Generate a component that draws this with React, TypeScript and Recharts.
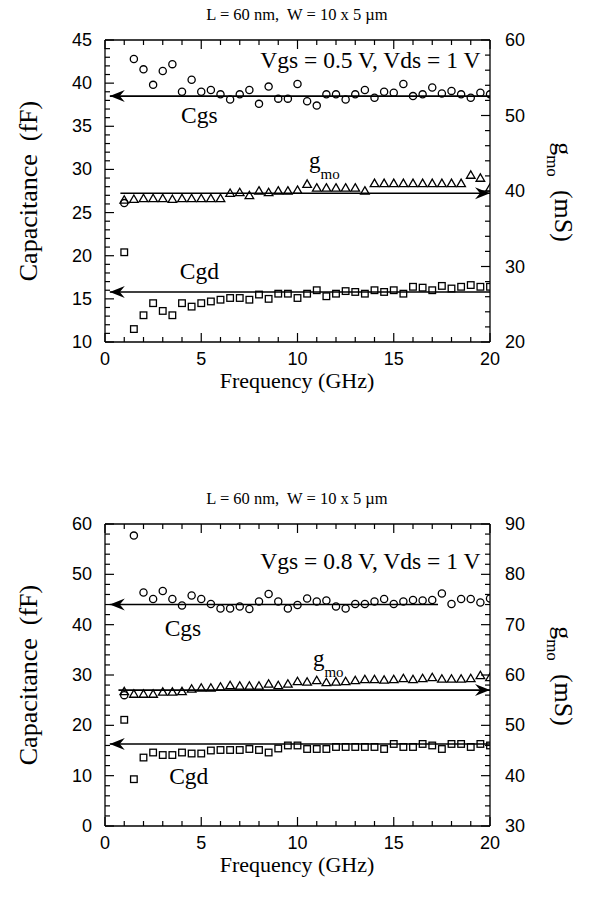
import React from "react";
import {
  ComposedChart,
  Scatter,
  XAxis,
  YAxis,
  ReferenceLine,
  ReferenceDot,
} from "recharts";

const freqGHz = [
  1, 1.5, 2, 2.5, 3, 3.5, 4, 4.5, 5, 5.5, 6, 6.5, 7, 7.5, 8, 8.5, 9, 9.5, 10,
  10.5, 11, 11.5, 12, 12.5, 13, 13.5, 14, 14.5, 15, 15.5, 16, 16.5, 17, 17.5,
  18, 18.5, 19, 19.5, 20,
];

// Vgs = 0.5 V
const cgsLow = [
  26.1, 42.8, 41.6, 39.8, 41.4, 42.2, 39.0, 40.4, 39.0, 39.2, 38.7, 38.1, 38.7,
  39.2, 37.6, 39.6, 38.2, 38.2, 39.9, 37.9, 37.4, 38.7, 38.7, 38.1, 38.7, 39.2,
  38.3, 39.0, 38.9, 39.9, 38.5, 38.7, 39.5, 38.8, 39.1, 38.7, 38.3, 38.9, 38.7,
];
const gmLow = [
  38.8, 38.9, 39.0, 39.0, 39.0, 38.9, 39.0, 39.0, 39.0, 39.0, 39.0, 39.7, 39.8,
  39.4, 40.0, 39.8, 40.0, 40.0, 40.1, 40.9, 40.4, 40.4, 40.4, 40.4, 40.4, 40.0,
  41.0, 41.0, 41.0, 41.0, 41.0, 41.0, 41.0, 41.0, 41.0, 41.0, 42.1, 41.7, 40.4,
];
const cgdLow = [
  20.4, 11.5, 13.1, 14.5, 13.6, 13.1, 14.5, 14.1, 14.5, 14.7, 14.9, 15.1, 15.1,
  14.9, 15.5, 15.0, 15.6, 15.6, 15.1, 15.6, 16.0, 15.3, 15.6, 15.9, 15.8, 15.6,
  16.0, 15.8, 16.0, 15.6, 16.4, 16.3, 16.0, 16.5, 16.2, 16.4, 16.6, 16.4, 16.4,
];

// Vgs = 0.8 V
const cgsHigh = [
  26.0, 57.7, 46.4, 45.1, 46.7, 45.1, 43.8, 45.8, 45.1, 44.1, 43.2, 43.2, 43.6,
  43.1, 44.6, 46.1, 44.6, 43.2, 43.9, 45.2, 44.6, 44.8, 43.6, 43.2, 44.1, 44.1,
  44.6, 45.1, 44.1, 44.6, 44.9, 44.8, 44.9, 46.2, 44.1, 45.1, 45.1, 44.4, 45.2,
];
const gmHigh = [
  56.7, 56.2, 56.2, 56.2, 56.6, 56.6, 56.7, 57.2, 57.4, 57.4, 57.6, 57.9, 57.8,
  57.8, 57.8, 58.2, 57.9, 58.2, 58.7, 58.6, 58.9, 58.5, 58.6, 58.7, 58.9, 59.1,
  59.1, 59.0, 59.1, 59.3, 59.1, 59.3, 59.5, 59.2, 59.2, 59.2, 59.3, 59.9, 59.5,
];
const cgdHigh = [
  21.1, 9.3, 13.6, 14.6, 14.1, 14.1, 14.6, 14.4, 14.4, 15.0, 15.1, 15.1, 15.1,
  15.3, 15.1, 14.6, 15.4, 16.0, 16.0, 15.3, 15.3, 15.3, 15.7, 15.7, 15.7, 15.7,
  15.7, 15.3, 16.3, 15.7, 15.7, 16.3, 16.0, 15.3, 16.3, 16.3, 15.7, 16.3, 16.0,
];

// extrapolated levels drawn as arrows: [level, from GHz, to GHz]
const fitCgsLow = [38.5, 0.25, 20];
const fitGmLow = [39.7, 0.8, 20];
const fitCgdLow = [15.8, 0.25, 20];
const fitCgsHigh = [44.0, 0.25, 17.3];
const fitGmHigh = [57.0, 0.7, 20];
const fitCgdHigh = [16.3, 0.25, 20];

const freqTicks = [0, 5, 10, 15, 20];
const capTicksLow = [10, 15, 20, 25, 30, 35, 40, 45];
const gmTicksLow = [20, 30, 40, 50, 60];
const capTicksHigh = [0, 10, 20, 30, 40, 50, 60];
const gmTicksHigh = [30, 40, 50, 60, 70, 80, 90];

const SANS = "Liberation Sans";
const SERIF = "Liberation Serif";
const PLOT_H = 302;
const M = 4;

function range(a: number, b: number, step: number) {
  const out: number[] = [];
  for (let v = a; v <= b + 1e-9; v += step) out.push(Math.round(v * 100) / 100);
  return out;
}

const circleShape = (p: any) => (
  <circle cx={p.cx} cy={p.cy} r={3.6} fill="none" stroke="#000" strokeWidth={1.3} />
);
const triShape = (p: any) => (
  <path
    d={`M${p.cx},${p.cy - 4.3} L${p.cx + 4.3},${p.cy + 3.1} L${p.cx - 4.3},${p.cy + 3.1} Z`}
    fill="none"
    stroke="#000"
    strokeWidth={1.3}
  />
);
const squareShape = (p: any) => (
  <rect x={p.cx - 3.3} y={p.cy - 3.3} width={6.6} height={6.6} fill="none" stroke="#000" strokeWidth={1.3} />
);

const arrowShape = (dir: "left" | "right") => (p: any) => {
  const { x1, y1, x2, y2 } = p;
  const tip = dir === "left" ? Math.min(x1, x2) : Math.max(x1, x2);
  const s = dir === "left" ? 1 : -1;
  return (
    <g>
      <line x1={x1} y1={y1} x2={x2} y2={y2} stroke="#000" strokeWidth={1.6} />
      <path
        d={`M${tip},${y1} L${tip + s * 15},${y1 - 6} L${tip + s * 10},${y1} L${tip + s * 15},${y1 + 6} Z`}
        fill="#000"
      />
    </g>
  );
};

const textShape = (label: string, anchor: string) => (p: any) => (
  <text x={p.cx} y={p.cy} textAnchor={anchor} fontFamily={SERIF} fontSize={23.5} fill="#000">
    {label}
  </text>
);

const gmoShape = (p: any) => (
  <text x={p.cx} y={p.cy} fontFamily={SERIF} fontSize={23} fill="#000">
    g
    <tspan dy={11} fontSize={15}>
      mo
    </tspan>
  </text>
);

function Panel({
  top,
  title,
  bias,
  cgs,
  gm,
  cgd,
  capTicks,
  capMinor,
  gmTicks,
  gmMinor,
  fitCgs,
  fitGm,
  fitCgd,
  biasAt,
  cgsAt,
  gmoAt,
  cgdAt,
}: any) {
  const capDomain = [capTicks[0], capTicks[capTicks.length - 1]];
  const gmDomain = [gmTicks[0], gmTicks[gmTicks.length - 1]];
  const toPts = (arr: number[]) => freqGHz.map((f, i) => ({ f, v: arr[i] }));

  const xTick = (p: any) => {
    const axisY = p.y - M;
    const v = p.payload.value;
    const major = freqTicks.includes(v);
    const len = major ? 9 : 5;
    return (
      <g>
        <line x1={p.x} y1={axisY} x2={p.x} y2={axisY - len} stroke="#000" strokeWidth={1.2} />
        <line x1={p.x} y1={axisY - PLOT_H} x2={p.x} y2={axisY - PLOT_H + len} stroke="#000" strokeWidth={1.2} />
        {major && (
          <text x={p.x} y={axisY + 17} textAnchor="middle" dominantBaseline="central" fontFamily={SANS} fontSize={18} fill="#000">
            {v}
          </text>
        )}
      </g>
    );
  };

  const leftTick = (p: any) => {
    const axisX = p.x + M;
    const v = p.payload.value;
    const major = capTicks.includes(v);
    return (
      <g>
        <line x1={axisX} y1={p.y} x2={axisX + (major ? 9 : 5)} y2={p.y} stroke="#000" strokeWidth={1.2} />
        {major && (
          <text x={axisX - 13} y={p.y} textAnchor="end" dominantBaseline="central" fontFamily={SANS} fontSize={18} fill="#000">
            {v}
          </text>
        )}
      </g>
    );
  };

  const rightTick = (p: any) => {
    const axisX = p.x - M;
    const v = p.payload.value;
    const major = gmTicks.includes(v);
    return (
      <g>
        <line x1={axisX} y1={p.y} x2={axisX - (major ? 9 : 5)} y2={p.y} stroke="#000" strokeWidth={1.2} />
        {major && (
          <text x={axisX + 15} y={p.y} textAnchor="start" dominantBaseline="central" fontFamily={SANS} fontSize={18} fill="#000">
            {v}
          </text>
        )}
      </g>
    );
  };

  return (
    <div style={{ position: "absolute", left: 0, top, width: 589, height: 420 }}>
      <ComposedChart width={589} height={400} margin={{ top: 40, right: 54, bottom: 28, left: 60 }}>
        <XAxis
          type="number"
          dataKey="f"
          domain={[0, 20]}
          ticks={range(0, 20, 1)}
          interval={0}
          tickSize={0}
          tickMargin={M}
          height={30}
          axisLine={{ stroke: "#000", strokeWidth: 1.3 }}
          tick={xTick}
          allowDataOverflow
        />
        <YAxis
          yAxisId="cap"
          type="number"
          dataKey="v"
          domain={capDomain}
          ticks={range(capDomain[0], capDomain[1], capMinor)}
          interval={0}
          tickSize={0}
          tickMargin={M}
          width={45}
          axisLine={{ stroke: "#000", strokeWidth: 1.3 }}
          tick={leftTick}
          allowDataOverflow
        />
        <YAxis
          yAxisId="gm"
          orientation="right"
          type="number"
          dataKey="v"
          domain={gmDomain}
          ticks={range(gmDomain[0], gmDomain[1], gmMinor)}
          interval={0}
          tickSize={0}
          tickMargin={M}
          width={45}
          axisLine={{ stroke: "#000", strokeWidth: 1.3 }}
          tick={rightTick}
          allowDataOverflow
        />
        <ReferenceLine yAxisId="cap" y={capDomain[1]} stroke="#000" strokeWidth={1.3} />

        <ReferenceLine
          yAxisId="cap"
          segment={[
            { x: fitCgs[1], y: fitCgs[0] },
            { x: fitCgs[2], y: fitCgs[0] },
          ]}
          shape={arrowShape("left")}
        />
        <ReferenceLine
          yAxisId="gm"
          segment={[
            { x: fitGm[1], y: fitGm[0] },
            { x: fitGm[2], y: fitGm[0] },
          ]}
          shape={arrowShape("right")}
        />
        <ReferenceLine
          yAxisId="cap"
          segment={[
            { x: fitCgd[1], y: fitCgd[0] },
            { x: fitCgd[2], y: fitCgd[0] },
          ]}
          shape={arrowShape("left")}
        />

        <Scatter yAxisId="cap" data={toPts(cgs)} dataKey="v" shape={circleShape} isAnimationActive={false} />
        <Scatter yAxisId="gm" data={toPts(gm)} dataKey="v" shape={triShape} isAnimationActive={false} />
        <Scatter yAxisId="cap" data={toPts(cgd)} dataKey="v" shape={squareShape} isAnimationActive={false} />

        <ReferenceDot yAxisId="cap" x={biasAt[0]} y={biasAt[1]} shape={textShape(bias, "end")} />
        <ReferenceDot yAxisId="cap" x={cgsAt[0]} y={cgsAt[1]} shape={textShape("Cgs", "middle")} />
        <ReferenceDot yAxisId="cap" x={cgdAt[0]} y={cgdAt[1]} shape={textShape("Cgd", "middle")} />
        <ReferenceDot yAxisId="gm" x={gmoAt[0]} y={gmoAt[1]} shape={gmoShape} />
      </ComposedChart>
      <svg
        width={589}
        height={420}
        style={{ position: "absolute", left: 0, top: 0, pointerEvents: "none" }}
      >
        <text x={297} y={20} textAnchor="middle" fontFamily={SERIF} fontSize={16.5} fill="#000" style={{ whiteSpace: "pre" }}>
          {title}
        </text>
        <text
          transform="translate(37,191) rotate(-90)"
          textAnchor="middle"
          fontFamily={SERIF}
          fontSize={26}
          fill="#000"
          style={{ whiteSpace: "pre" }}
        >
          {"Capacitance  (fF)"}
        </text>
        <text
          transform="translate(555,192) rotate(90)"
          textAnchor="middle"
          fontFamily={SERIF}
          fontSize={26}
          fill="#000"
          style={{ whiteSpace: "pre" }}
        >
          g
          <tspan dy={8} fontSize={17}>
            mo
          </tspan>
          <tspan dy={-8}>{"  (mS)"}</tspan>
        </text>
        <text x={297} y={388} textAnchor="middle" fontFamily={SERIF} fontSize={22} fill="#000">
          Frequency (GHz)
        </text>
      </svg>
    </div>
  );
}

export default function App() {
  return (
    <div style={{ position: "absolute", left: 0, top: 0, width: 589, height: 909, background: "#fff" }}>
      <Panel
        top={0}
        title={"L = 60 nm,  W = 10 x 5 \u00b5m"}
        bias="Vgs = 0.5 V, Vds = 1 V"
        cgs={cgsLow}
        gm={gmLow}
        cgd={cgdLow}
        capTicks={capTicksLow}
        capMinor={1}
        gmTicks={gmTicksLow}
        gmMinor={2}
        fitCgs={fitCgsLow}
        fitGm={fitGmLow}
        fitCgd={fitCgdLow}
        biasAt={[19.5, 41.7]}
        cgsAt={[4.9, 35.4]}
        cgdAt={[4.9, 17.3]}
        gmoAt={[10.6, 43.1]}
      />
      <Panel
        top={484}
        title={"L = 60 nm,  W = 10 x 5 \u00b5m"}
        bias="Vgs = 0.8 V, Vds = 1 V"
        cgs={cgsHigh}
        gm={gmHigh}
        cgd={cgdHigh}
        capTicks={capTicksHigh}
        capMinor={2}
        gmTicks={gmTicksHigh}
        gmMinor={2}
        fitCgs={fitCgsHigh}
        fitGm={fitGmHigh}
        fitCgd={fitCgdHigh}
        biasAt={[19.5, 51.1]}
        cgsAt={[4.05, 37.8]}
        cgdAt={[4.35, 8.3]}
        gmoAt={[10.8, 61.85]}
      />
    </div>
  );
}
